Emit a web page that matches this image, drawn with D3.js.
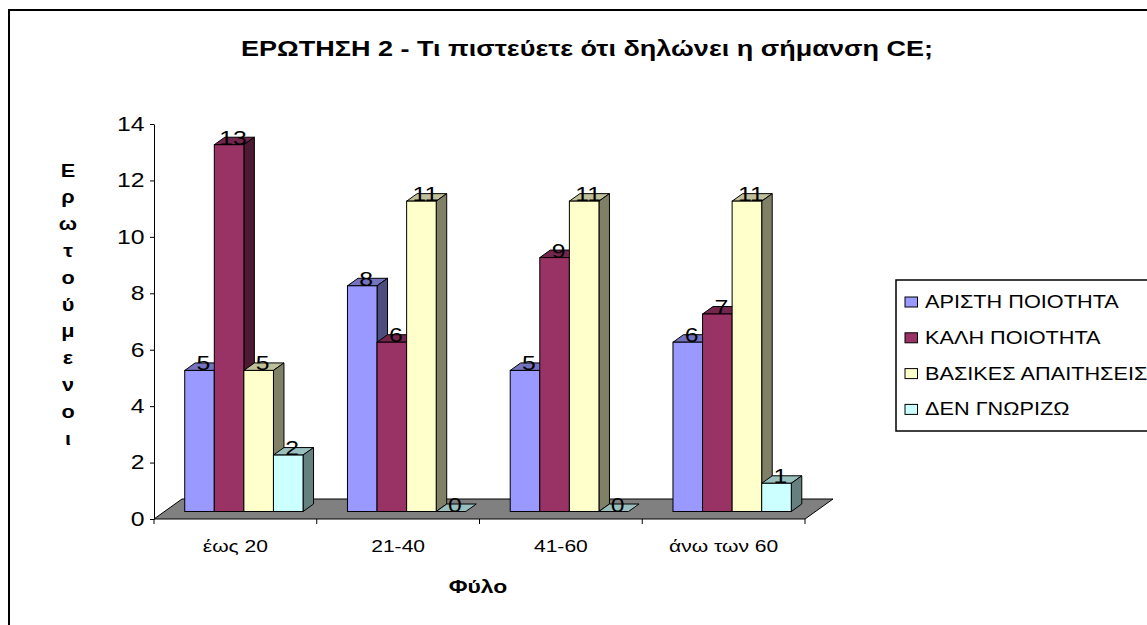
<!DOCTYPE html>
<html>
<head>
<meta charset="utf-8">
<script src="https://cdn.jsdelivr.net/npm/d3@7"></script>
<style>
  body { margin: 0; background: #fff; }
  svg { display: block; font-family: Arial, "Liberation Sans", sans-serif; }
</style>
</head>
<body>
<div id="chart"></div>
<script>
// data
const categories = ["έως 20", "21-40", "41-60", "άνω των 60"];
const seriesNames = ["ΑΡΙΣΤΗ ΠΟΙΟΤΗΤΑ", "ΚΑΛΗ ΠΟΙΟΤΗΤΑ", "ΒΑΣΙΚΕΣ ΑΠΑΙΤΗΣΕΙΣ", "ΔΕΝ ΓΝΩΡΙΖΩ"];
const aristi = [5, 8, 5, 6];
const kali = [13, 6, 9, 7];
const vasikes = [5, 11, 11, 11];
const denGnorizo = [2, 0, 0, 1];
const yTicks = [0, 2, 4, 6, 8, 10, 12, 14];
const colors = ["#9999FF", "#993366", "#FFFFCC", "#CCFFFF"];

const titleText = "ΕΡΩΤΗΣΗ 2 - Τι πιστεύετε ότι δηλώνει η σήμανση CE;";
const yTitle = "Ερωτούμενοι";
const xTitle = "Φύλο";

const w = 1147, h = 625;
const SX = 1.24;              // the original is stretched sideways
const floorD = [28, -20];     // depth of the floor
const barOff = [8.5, -7.5];   // where the bars sit on the floor
const barD = [10.5, -7.5];    // depth of a bar

const svg = d3.select("#chart").append("svg")
  .attr("width", w).attr("height", h);

// stretched text helper
function stext(parent, x, y, str, size, anchor, weight) {
  return parent.append("text")
    .attr("transform", `translate(${x},${y}) scale(${SX},1)`)
    .attr("text-anchor", anchor || "start")
    .style("font-size", size + "px")
    .style("font-weight", weight || "normal")
    .attr("fill", "#000")
    .text(str);
}

// outer frame
svg.append("rect")
  .attr("x", 9).attr("y", 10).attr("width", 1200).attr("height", 700)
  .attr("fill", "none").attr("stroke", "#000").attr("stroke-width", 2);

stext(svg, 587, 56, titleText, 21.8, "middle", "bold");

// scales
const x = d3.scaleBand().domain(categories).range([154, 805])
  .paddingInner(0.273).paddingOuter(0.1365);
const xs = d3.scaleBand().domain(seriesNames).range([0, x.bandwidth()]);
const y = d3.scaleLinear().domain([0, 14]).range([519, 124]);

// floor
const fx0 = x.range()[0], fx1 = x.range()[1], fy = y(0);
svg.append("polygon")
  .attr("points", [[fx0, fy], [fx1, fy], [fx1 + floorD[0], fy + floorD[1]], [fx0 + floorD[0], fy + floorD[1]]].join(" "))
  .attr("fill", "#808080").attr("stroke", "#000").attr("stroke-width", 1);

// x ticks at the category borders
const step = x.step();
svg.append("g").selectAll("line")
  .data(d3.range(categories.length + 1))
  .join("line")
  .attr("x1", i => fx0 + i * step).attr("x2", i => fx0 + i * step)
  .attr("y1", fy).attr("y2", fy + 5)
  .attr("stroke", "#000");

// y axis
const yAxis = svg.append("g")
  .attr("transform", `translate(${fx0},0)`)
  .call(d3.axisLeft(y).tickValues(yTicks).tickSize(4).tickSizeOuter(0));
yAxis.select(".domain").attr("stroke", "#000");
yAxis.selectAll(".tick line").attr("stroke", "#000");
yAxis.selectAll(".tick text")
  .attr("x", -9.5 / SX)
  .attr("transform", `scale(${SX},1)`)
  .style("font-size", "20px")
  .attr("fill", "#000")
  .attr("font-family", null);

// category labels
categories.forEach(c => {
  stext(svg, x(c) + x.bandwidth() / 2, 552, c, 17, "middle");
});

// bars
const series = [aristi, kali, vasikes, denGnorizo];
const shade = (c, k) => { const r = d3.rgb(c); return d3.rgb(r.r * k, r.g * k, r.b * k).formatHex(); };
const bars = [];
categories.forEach((c, ci) => {
  series.forEach((s, si) => {
    bars.push({ c, name: seriesNames[si], v: s[ci], color: colors[si] });
  });
});

const gBars = svg.append("g");
bars.forEach(d => {
  const x0 = x(d.c) + xs(d.name) + barOff[0];
  const bw = xs.bandwidth();
  const yt = y(d.v) + barOff[1];
  const yb = y(0) + barOff[1];
  const g = gBars.append("g");
  g.append("polygon")
    .attr("points", [[x0, yt], [x0 + bw, yt], [x0 + bw + barD[0], yt + barD[1]], [x0 + barD[0], yt + barD[1]]].join(" "))
    .attr("fill", shade(d.color, 0.75)).attr("stroke", "#000").attr("stroke-linejoin", "round");
  if (d.v > 0) {
    g.append("polygon")
      .attr("points", [[x0 + bw, yt], [x0 + bw + barD[0], yt + barD[1]], [x0 + bw + barD[0], yb + barD[1]], [x0 + bw, yb]].join(" "))
      .attr("fill", shade(d.color, 0.5)).attr("stroke", "#000").attr("stroke-linejoin", "round");
    g.append("rect")
      .attr("x", x0).attr("y", yt).attr("width", bw).attr("height", yb - yt)
      .attr("fill", d.color).attr("stroke", "#000");
  }
});

// value labels
bars.forEach(d => {
  const x0 = x(d.c) + xs(d.name) + barOff[0];
  stext(svg, x0 + xs.bandwidth() / 2 + 4, y(d.v) + barOff[1], d.v, 20, "middle");
});

// axis titles
Array.from(yTitle).forEach((ch, i) => {
  stext(svg, 68, 176.5 + i * 26.8, ch, 17.5, "middle", "bold");
});
stext(svg, 478, 593, xTitle, 18.5, "middle", "bold");

// legend
const legend = svg.append("g");
legend.append("rect")
  .attr("x", 896).attr("y", 280).attr("width", 300).attr("height", 151)
  .attr("fill", "#fff").attr("stroke", "#000").attr("stroke-width", 1.5);
seriesNames.forEach((n, i) => {
  const cy = 302 + i * 35.8;
  legend.append("rect")
    .attr("x", 905).attr("y", cy - 5).attr("width", 12.5).attr("height", 10)
    .attr("fill", colors[i]).attr("stroke", "#000");
  stext(legend, 925, cy + 6, n, 17.5, "start");
});
</script>
</body>
</html>
